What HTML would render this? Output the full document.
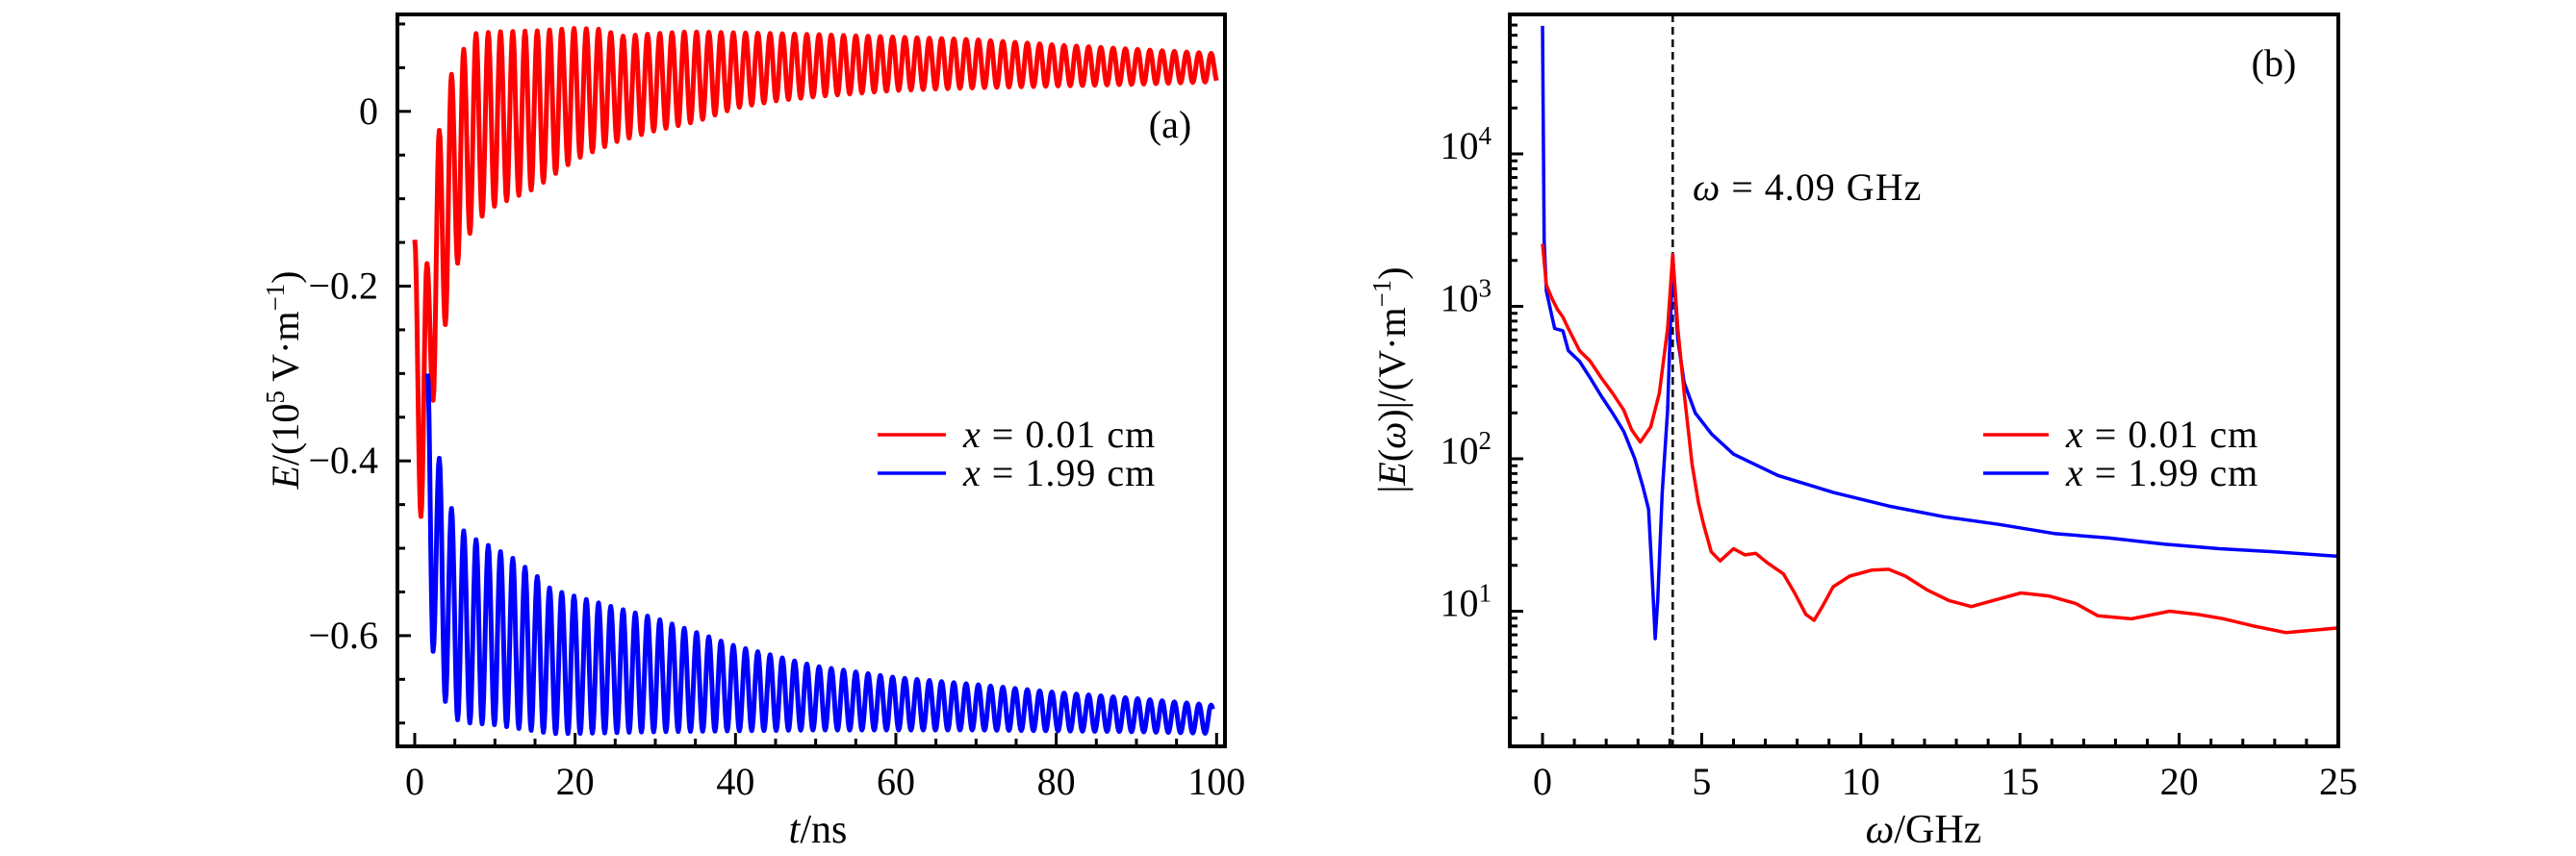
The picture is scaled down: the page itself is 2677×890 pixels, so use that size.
<!DOCTYPE html>
<html><head><meta charset="utf-8"><style>
html,body{margin:0;padding:0;background:#fff;}
svg{display:block;font-family:"Liberation Serif","DejaVu Serif",serif;}
</style></head><body>
<svg id="fig" width="2677" height="890" viewBox="0 0 2677 890" xmlns="http://www.w3.org/2000/svg">
<g id="pa"></g>
<g id="pb"></g>
</svg>
<script>
// ---------- Panel (a) data ----------
const aPeriod = 1.528;
const redUpperT = [0,1.5,3,4.6,6.1,7.6,10,15,20,23,26,30,34,40,45,50,60,70,80,90,100];
const redUpperV = [-0.147,-0.177,-0.024,0.043,0.071,0.089,0.091,0.092,0.095,0.094,0.086,0.089,0.091,0.09,0.089,0.088,0.085,0.082,0.076,0.071,0.066];
const redLowerT = [0.76,2.3,3.8,5.3,6.9,8.4,10,15,20,25,30,35,40,45,50,60,70,80,90,100];
const redLowerV = [-0.464,-0.33,-0.245,-0.175,-0.139,-0.12,-0.108,-0.088,-0.055,-0.035,-0.022,-0.012,0.004,0.012,0.017,0.024,0.027,0.029,0.031,0.034];
const blueUpperT = [1.6,3.1,4.6,6.1,7.6,9,12,15,17,20,25,30,40,50,60,70,80,90,100];
const blueUpperV = [-0.30,-0.40,-0.455,-0.48,-0.49,-0.496,-0.51,-0.53,-0.547,-0.555,-0.568,-0.58,-0.612,-0.635,-0.648,-0.656,-0.665,-0.672,-0.68];
const blueLowerT = [2.3,3.8,5.4,6.9,10,17,20,30,50,70,90,100];
const blueLowerV = [-0.618,-0.675,-0.697,-0.70,-0.702,-0.712,-0.712,-0.71,-0.708,-0.708,-0.71,-0.712];
const aXTicks = [0,20,40,60,80,100];
const aYTicks = [0,-0.2,-0.4,-0.6];
const aYLabels = ["0","\u22120.2","\u22120.4","\u22120.6"];

// ---------- Panel (b) data ----------
const redFreq = [0,0.12,0.3,0.47,0.64,0.81,1.16,1.5,1.85,2.2,2.55,2.8,3.07,3.4,3.67,3.93,4.09,4.25,4.45,4.7,4.9,5.06,5.3,5.58,6.0,6.36,6.7,7.05,7.57,7.92,8.27,8.53,8.79,9.13,9.65,10.35,10.87,11.4,12.08,12.77,13.47,14.33,15.03,15.9,16.76,17.45,18.5,19.7,20.57,21.4,22.3,23.35,24.2,25];
const redLogAmp = [3.41,3.14,3.05,2.98,2.93,2.855,2.71,2.64,2.53,2.43,2.32,2.19,2.11,2.21,2.43,2.855,3.34,2.855,2.43,1.96,1.71,1.57,1.39,1.33,1.41,1.37,1.38,1.32,1.245,1.12,0.98,0.94,1.03,1.16,1.23,1.27,1.275,1.23,1.14,1.07,1.03,1.08,1.12,1.10,1.05,0.97,0.95,1.0,0.98,0.95,0.905,0.86,0.875,0.89];
const blueFreq = [0,0.05,0.12,0.38,0.64,0.81,1.16,1.5,1.85,2.2,2.55,2.9,3.15,3.33,3.45,3.54,3.62,3.76,3.93,4.09,4.25,4.45,4.8,5.32,6.0,7.4,9.13,10.87,12.6,14.33,16.07,17.8,19.53,21.27,23.0,25];
const blueLogAmp = [4.84,3.43,3.1,2.855,2.84,2.71,2.64,2.53,2.41,2.30,2.18,2.0,1.82,1.67,1.21,0.82,1.07,1.78,2.32,3.34,2.78,2.5,2.30,2.16,2.03,1.89,1.78,1.69,1.62,1.57,1.51,1.48,1.44,1.41,1.39,1.36];
const bXTicks = [0,5,10,15,20,25];
const bYDecades = [1,2,3,4];
const markerFreq = 4.09;

const NS = "http://www.w3.org/2000/svg";
function mk(parent, tag, attrs){
  const e = document.createElementNS(NS, tag);
  for (const k in attrs) e.setAttribute(k, attrs[k]);
  parent.appendChild(e);
  return e;
}
function interp(ts, vs, t){
  if (t <= ts[0]) return vs[0];
  if (t >= ts[ts.length-1]) return vs[vs.length-1];
  for (let i=1;i<ts.length;i++){
    if (t <= ts[i]){ const f=(t-ts[i-1])/(ts[i]-ts[i-1]); return vs[i-1]+f*(vs[i]-vs[i-1]); }
  }
}
function txt(parent, x, y, s, size, anchor){
  const t = mk(parent,'text',{x:x,y:y,'font-size':size,'text-anchor':anchor||'middle',fill:'#000'});
  t.textContent = s;
  return t;
}

// ===== Panel (a) =====
const pa = document.getElementById('pa');
const aL=413, aR=1273, aT=15, aB=776;
const ax = t => 431 + t*8.333;
const ay = v => 115.8 - v*908.5;

function oscPath(upT,upV,loT,loV,tStart,kStart,tEnd){
  const ext=[];
  for (let k=kStart; ; k+=0.5){
    let t = k*aPeriod; if (k===kStart) t = tStart;
    if (t > tEnd) { break; }
    const isPeak = (Math.round(k*2)%2===0);
    ext.push([t, isPeak ? interp(upT,upV,t) : interp(loT,loV,t)]);
  }
  let d = `M${ax(ext[0][0]).toFixed(1)},${ay(ext[0][1]).toFixed(1)}`;
  for (let i=1;i<ext.length;i++){
    const [t0,v0]=ext[i-1],[t1,v1]=ext[i];
    for (let s=1;s<=8;s++){
      const f=s/8, w=(1-Math.cos(Math.PI*f))/2;
      d += ` L${ax(t0+(t1-t0)*f).toFixed(1)},${ay(v0+(v1-v0)*w).toFixed(1)}`;
    }
  }
  const last = ext[ext.length-1];
  const nextPeak = ((Math.round((last[0]/aPeriod)*2))%2===0);
  const tn = last[0]+aPeriod/2;
  const vn = nextPeak ? interp(loT,loV,tn) : interp(upT,upV,tn);
  for (let s=1;s<=8;s++){
    const f=s/8, t=last[0]+(tn-last[0])*f; if (t>tEnd) break;
    const w=(1-Math.cos(Math.PI*f))/2;
    d += ` L${ax(t).toFixed(1)},${ay(last[1]+(vn-last[1])*w).toFixed(1)}`;
  }
  return d;
}
const clipA = mk(pa,'clipPath',{id:'clipA'}); mk(clipA,'rect',{x:aL,y:aT,width:aR-aL,height:aB-aT});
const redA = mk(pa,'path',{d:oscPath(redUpperT,redUpperV,redLowerT,redLowerV,0,0,100),fill:'none',stroke:'#ff0000','stroke-width':5,'stroke-linejoin':'round','clip-path':'url(#clipA)'});


const blueA = mk(pa,'path',{d:oscPath(blueUpperT,blueUpperV,blueLowerT,blueLowerV,1.6,1,99.6),fill:'none',stroke:'#0000ff','stroke-width':5,'stroke-linejoin':'round','clip-path':'url(#clipA)'});



const frameA = mk(pa,'rect',{x:aL,y:aT,width:aR-aL,height:aB-aT,fill:'none',stroke:'#000','stroke-width':4});


for (let t=0;t<=100;t+=5){
  const maj = t%20===0;
  mk(pa,'line',{x1:ax(t),x2:ax(t),y1:aB,y2:aB-(maj?14:8),stroke:'#000','stroke-width':3});
}
for (let i=0;i<aXTicks.length;i++){
  const l = txt(pa, ax(aXTicks[i]), 826, String(aXTicks[i]), 40);
  
  
}
for (let v=0.10; v>=-0.70-1e-9; v-=0.05){
  const maj = Math.abs(Math.round(v*100)%20)===0;
  mk(pa,'line',{x1:aL,x2:aL+(maj?14:8),y1:ay(v),y2:ay(v),stroke:'#000','stroke-width':3});
}
for (let i=0;i<aYTicks.length;i++){
  const l = txt(pa, 393, ay(aYTicks[i])+13, aYLabels[i], 40, 'end');
  
  
}
const xla = mk(pa,'text',{x:850,y:876,'font-size':42,'text-anchor':'middle'});
xla.innerHTML = '<tspan font-style="italic">t</tspan>/ns';


const yla = mk(pa,'text',{x:0,y:0,'font-size':40,'text-anchor':'middle',transform:'translate(310,395) rotate(-90)'});
yla.innerHTML = '<tspan font-style="italic">E</tspan>/(10<tspan font-size="27" dy="-15">5</tspan><tspan dy="15"> V\u00b7m</tspan><tspan font-size="27" dy="-15">\u22121</tspan><tspan dy="15">)</tspan>';


const pla = txt(pa, 1216, 143, '(a)', 40);


const lga = mk(pa,'g',{});


mk(lga,'line',{x1:912,x2:983,y1:452,y2:452,stroke:'#ff0000','stroke-width':3.5});
mk(lga,'line',{x1:912,x2:983,y1:492,y2:492,stroke:'#0000ff','stroke-width':3.5});
let t1 = mk(lga,'text',{x:1001,y:465,'font-size':40,'letter-spacing':1}); t1.innerHTML='<tspan font-style="italic">x</tspan> = 0.01 cm';


let t2 = mk(lga,'text',{x:1001,y:505,'font-size':40,'letter-spacing':1}); t2.innerHTML='<tspan font-style="italic">x</tspan> = 1.99 cm';



// ===== Panel (b) =====
const pb = document.getElementById('pb');
const bL=1569, bR=2430, bT=15, bB=776;
const bx = w => 1603 + w*33.08;
const by = lg => 160 + (4-lg)*158.5;
const clipB = mk(pb,'clipPath',{id:'clipB'}); mk(clipB,'rect',{x:bL,y:bT,width:bR-bL,height:bB-bT});
function linePath(xs,ys){ return xs.map((x,i)=>(i?'L':'M')+bx(x).toFixed(1)+','+by(ys[i]).toFixed(1)).join(' '); }
const dash = mk(pb,'line',{x1:bx(markerFreq),x2:bx(markerFreq),y1:bT,y2:bB,stroke:'#000','stroke-width':2.5,'stroke-dasharray':'8,5'});


const blueB = mk(pb,'path',{d:linePath(blueFreq,blueLogAmp),fill:'none',stroke:'#0000ff','stroke-width':3.5,'stroke-linejoin':'round','clip-path':'url(#clipB)'});


const redB = mk(pb,'path',{d:linePath(redFreq,redLogAmp),fill:'none',stroke:'#ff0000','stroke-width':3.5,'stroke-linejoin':'round','clip-path':'url(#clipB)'});


const frameB = mk(pb,'rect',{x:bL,y:bT,width:bR-bL,height:bB-bT,fill:'none',stroke:'#000','stroke-width':4});


for (let w=0; w<=25; w++){
  const maj = w%5===0;
  mk(pb,'line',{x1:bx(w),x2:bx(w),y1:bB,y2:bB-(maj?14:8),stroke:'#000','stroke-width':3});
}
for (let i=0;i<bXTicks.length;i++){
  const l = txt(pb, bx(bXTicks[i]), 826, String(bXTicks[i]), 40);
  
  
}
for (let d=0; d<=4; d++){
  for (let m=1;m<=9;m++){
    const lg = d+Math.log10(m), y=by(lg);
    if (y<bT+2||y>bB-2) continue;
    mk(pb,'line',{x1:bL,x2:bL+(m===1?14:8),y1:y,y2:y,stroke:'#000','stroke-width':3});
  }
}
for (let i=0;i<bYDecades.length;i++){
  const l = mk(pb,'text',{x:1550,y:by(bYDecades[i])+5,'font-size':40,'text-anchor':'end'});
  l.innerHTML = '10<tspan font-size="27" dy="-15">'+bYDecades[i]+'</tspan>';
  
  
}
const xlb = mk(pb,'text',{x:1999,y:876,'font-size':42,'text-anchor':'middle'});
xlb.innerHTML = '<tspan font-style="italic">\u03c9</tspan>/GHz';


const ylb = mk(pb,'text',{x:0,y:0,'font-size':40,'text-anchor':'middle',transform:'translate(1460,395) rotate(-90)'});
ylb.innerHTML = '|<tspan font-style="italic">E</tspan>(<tspan font-style="italic">\u03c9</tspan>)|/(V\u00b7m<tspan font-size="27" dy="-15">\u22121</tspan><tspan dy="15">)</tspan>';


const ann = mk(pb,'text',{x:1759,y:208,'font-size':40,'letter-spacing':1});
ann.innerHTML = '<tspan font-style="italic">\u03c9</tspan> = 4.09 GHz';


const plb = txt(pb, 2363, 79, '(b)', 40);


const lgb = mk(pb,'g',{});


mk(lgb,'line',{x1:2061,x2:2129,y1:452,y2:452,stroke:'#ff0000','stroke-width':3.5});
mk(lgb,'line',{x1:2061,x2:2129,y1:492,y2:492,stroke:'#0000ff','stroke-width':3.5});
let t3 = mk(lgb,'text',{x:2147,y:465,'font-size':40,'letter-spacing':1}); t3.innerHTML='<tspan font-style="italic">x</tspan> = 0.01 cm';


let t4 = mk(lgb,'text',{x:2147,y:505,'font-size':40,'letter-spacing':1}); t4.innerHTML='<tspan font-style="italic">x</tspan> = 1.99 cm';


</script>
</body></html>
